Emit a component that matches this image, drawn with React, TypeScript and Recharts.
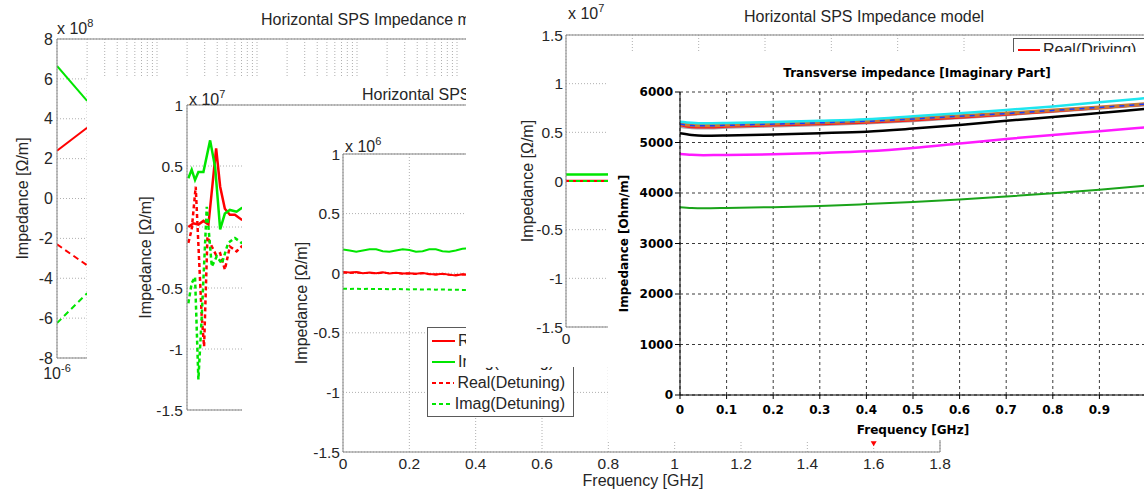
import React from 'react';
import {
  LineChart,
  Line,
  XAxis,
  YAxis,
  CartesianGrid,
  ReferenceLine,
  ReferenceDot,
  Legend,
} from 'recharts';

// ---------- back figure A: log frequency axis, values x 10^8 ----------
const aFreq = [1e-6, 2e-6];
const aRealDriving = [2.4, 3.55];
const aImagDriving = [6.65, 4.9];
const aRealDetuning = [-2.3, -3.35];
const aImagDetuning = [-6.25, -4.75];
const aYTicks = [-8, -6, -4, -2, 0, 2, 4, 6, 8];
const aDecades = [1e-6, 1e-5, 1e-4, 1e-3, 1e-2, 1e-1, 1];

// ---------- figure B: values x 10^7 ----------
const bFreqRealDrv = [0.004, 0.019, 0.034, 0.049, 0.064, 0.087, 0.099, 0.113, 0.128, 0.143, 0.163, 0.18];
const bRealDriving = [0.0, 0.03, 0.02, 0.05, 0.02, 0.645, 0.33, 0.15, 0.1, 0.1, 0.06, 0.05];
const bFreqImagDrv = [0.004, 0.014, 0.024, 0.034, 0.049, 0.069, 0.084, 0.099, 0.113, 0.128, 0.148, 0.163, 0.18];
const bImagDriving = [0.4, 0.47, 0.385, 0.45, 0.45, 0.71, 0.49, -0.02, 0.11, 0.14, 0.125, 0.155, 0.14];
const bFreqRealDet = [0.004, 0.014, 0.026, 0.044, 0.051, 0.061, 0.074, 0.087, 0.099, 0.113, 0.128, 0.148, 0.163, 0.18];
const bRealDetuning = [-0.13, -0.02, 0.33, -0.735, -0.98, -0.08, -0.16, -0.23, -0.215, -0.35, -0.16, -0.2, -0.16, -0.15];
const bFreqImagDet = [0.004, 0.014, 0.024, 0.034, 0.044, 0.059, 0.074, 0.089, 0.104, 0.123, 0.143, 0.163, 0.18];
const bImagDetuning = [-0.625, -0.46, -0.41, -1.25, -0.735, 0.166, -0.325, -0.24, -0.3, -0.13, -0.09, -0.13, -0.12];
const bYTicks = [-1.5, -1, -0.5, 0, 0.5, 1];

// ---------- figure C: values x 10^6 ----------
const cFreq = [0, 0.02, 0.04, 0.06, 0.08, 0.1, 0.12, 0.14, 0.16, 0.18, 0.2, 0.22, 0.24, 0.26, 0.28, 0.3, 0.32, 0.34, 0.36, 0.38];
const cRealDriving = [0.01, 0.005, 0.01, 0, 0.005, 0, 0.008, -0.003, 0.004, -0.002, 0, -0.005, 0.002, -0.006, -0.01, -0.004, -0.012, -0.02, -0.008, -0.015];
const cImagDriving = [0.2, 0.19, 0.18, 0.19, 0.2, 0.2, 0.185, 0.18, 0.19, 0.2, 0.195, 0.18, 0.185, 0.2, 0.2, 0.185, 0.18, 0.19, 0.205, 0.21];
const cRealDetuning = [0.004, 0.002, 0.006, 0.001, 0.003, -0.002, 0.004, 0, 0.002, -0.004, -0.002, -0.006, 0, -0.008, -0.01, -0.006, -0.014, -0.016, -0.01, -0.014];
const cImagDetuning = [-0.13, -0.132, -0.13, -0.133, -0.131, -0.134, -0.132, -0.135, -0.133, -0.134, -0.136, -0.134, -0.137, -0.135, -0.138, -0.137, -0.139, -0.138, -0.14, -0.14];
const cMarker = { f: 1.6, v: -1.43 };
const mTicksX = [0, 0.2, 0.4, 0.6, 0.8, 1, 1.2, 1.4, 1.6, 1.8];

// ---------- figure E: values x 10^7 ----------
const eFreq = [0, 0.1, 0.2, 0.3];
const eRealDriving = [0.002, 0.002, 0.002, 0.002];
const eImagDriving = [0.068, 0.068, 0.069, 0.069];
const eImagDetuning = [0.0, 0.0, 0.0, 0.0];
const eRealDetuning = [0.0, 0.0, 0.0, 0.0];
const eYTicks = [-1.5, -1, -0.5, 0, 0.5, 1, 1.5];

// ---------- front figure D: Transverse impedance [Imaginary Part], Ohm/m ----------
const dFreq = [0, 0.025, 0.05, 0.1, 0.2, 0.3, 0.4, 0.5, 0.6, 0.7, 0.8, 0.9, 1.0];
const dGrey = [5315, 5290, 5285, 5300, 5325, 5350, 5385, 5430, 5490, 5550, 5615, 5680, 5745];
const dRed = [5345, 5305, 5300, 5315, 5340, 5365, 5395, 5440, 5495, 5555, 5620, 5685, 5750];
const dBrown = [5370, 5340, 5335, 5345, 5370, 5395, 5425, 5470, 5525, 5578, 5640, 5700, 5765];
const dBlue = [5365, 5335, 5330, 5340, 5365, 5390, 5420, 5465, 5520, 5572, 5635, 5695, 5760];
const dCyan = [5410, 5390, 5380, 5385, 5405, 5430, 5462, 5520, 5580, 5643, 5715, 5795, 5878];
const dBlack = [5185, 5150, 5135, 5140, 5160, 5185, 5215, 5275, 5345, 5430, 5505, 5585, 5665];
const dMagenta = [4772, 4755, 4750, 4752, 4765, 4790, 4825, 4890, 4980, 5070, 5150, 5225, 5302];
const dGreen = [3720, 3705, 3700, 3705, 3720, 3745, 3780, 3820, 3870, 3930, 3995, 4065, 4145];
const dXTicks = [0, 0.1, 0.2, 0.3, 0.4, 0.5, 0.6, 0.7, 0.8, 0.9];
const dYTicks = [0, 1000, 2000, 3000, 4000, 5000, 6000];

const MATLAB = '"Liberation Sans", Arial, Helvetica, sans-serif';
const CST = '"DejaVu Sans", Verdana, sans-serif';
const INK = '#262626';
const AXIS = '#858585';
const GRID = '#b0b0b0';
const RED = '#ff0000';
const GREEN = '#00e600';

const legendNames = ['Real(Driving)', 'Imag(Driving)', 'Real(Detuning)', 'Imag(Detuning)'];
const legendStyle: Record<string, { color: string; dash?: string }> = {
  'Real(Driving)': { color: RED },
  'Imag(Driving)': { color: GREEN },
  'Real(Detuning)': { color: RED, dash: '4 3' },
  'Imag(Detuning)': { color: GREEN, dash: '4 3' },
};

const dSeries = [
  { key: 'grey', values: dGrey, color: '#a3a3a3', width: 3 },
  { key: 'red', values: dRed, color: '#ff1a1a', width: 2.5 },
  { key: 'brown', values: dBrown, color: '#c87a36', width: 3.5 },
  { key: 'blue', values: dBlue, color: '#1a3cff', width: 1.5, dash: '5 5' },
  { key: 'cyan', values: dCyan, color: '#1ee6ef', width: 2.5 },
  { key: 'black', values: dBlack, color: '#000000', width: 2.5 },
  { key: 'magenta', values: dMagenta, color: '#ff1aff', width: 2.5 },
  { key: 'green', values: dGreen, color: '#1aa31a', width: 2 },
];

const dRows = dFreq.map((f, i) => {
  const row: Record<string, number> = { f };
  dSeries.forEach((s) => {
    row[s.key] = s.values[i];
  });
  return row;
});

// log grid positions 1..9 x 10^k
const aLogTicks = aDecades.flatMap((d) => [1, 2, 3, 4, 5, 6, 7, 8, 9].map((k) => k * d)).concat([10]);

const pts = (fs: number[], vs: number[]) => fs.map((f, i) => ({ f, v: vs[i] }));

// chart sits at page origin; margins place the plot box at (l,t)-(r,b)
function frame(l: number, t: number, r: number, b: number, yw: number, xh: number) {
  return {
    width: r + 30,
    height: b + 80,
    margin: { left: l - yw, top: t, right: 30, bottom: 80 - xh },
  };
}

function Panel({ x, y, w, h, children }: { x: number; y: number; w: number; h: number; children: React.ReactNode }) {
  return (
    <div style={{ position: 'absolute', left: x, top: y, width: w, height: h, background: '#fff', overflow: 'hidden' }}>
      <div style={{ position: 'absolute', left: -x, top: -y, width: 1144, height: 489 }}>{children}</div>
    </div>
  );
}

function Txt({ x, y, children, center, style }: { x: number; y: number; children: React.ReactNode; center?: boolean; style?: React.CSSProperties }) {
  return (
    <div
      style={{
        position: 'absolute',
        left: x,
        top: y,
        whiteSpace: 'nowrap',
        lineHeight: '16px',
        transform: center ? 'translateX(-50%)' : undefined,
        fontFamily: MATLAB,
        fontSize: 16,
        color: INK,
        ...style,
      }}
    >
      {children}
    </div>
  );
}

function Exp({ x, y, e }: { x: number; y: number; e: string }) {
  return (
    <Txt x={x} y={y}>
      x 10<span style={{ fontSize: 11, position: 'relative', top: -7 }}>{e}</span>
    </Txt>
  );
}

const vLabel = (text: string, x: number, cyFallback: number, style: React.CSSProperties) => ({
  content: (p: any) => {
    const vb = p && p.viewBox;
    const cy = vb && typeof vb.y === 'number' && typeof vb.height === 'number' ? vb.y + vb.height / 2 : cyFallback;
    return (
      <text x={x} y={cy} transform={`rotate(-90 ${x} ${cy})`} textAnchor="middle" dominantBaseline="central" style={style}>
        {text}
      </text>
    );
  },
});

const hLabel = (text: string, cx: number, cy: number, style: React.CSSProperties) => ({
  content: () => (
    <text x={cx} y={cy} textAnchor="middle" dominantBaseline="central" style={style}>
      {text}
    </text>
  ),
});

function DecadeTick(props: any) {
  const { x, y, payload } = props;
  const e = Math.log10(payload.value);
  if (Math.abs(e - Math.round(e)) > 1e-6) return <g />;
  return (
    <text x={x} y={y} textAnchor="middle" fill={INK} style={{ fontFamily: MATLAB, fontSize: 16 }}>
      <tspan dy="0.8em">10</tspan>
      <tspan dy="-0.6em" fontSize={11}>
        {Math.round(e)}
      </tspan>
    </text>
  );
}

function LegendBox({ padTop, lineW }: { padTop: number; lineW: number }) {
  return (
    <div
      style={{
        border: '1px solid #5a5a5a',
        background: '#fff',
        padding: `${padTop}px 8px 2px 4px`,
        fontFamily: MATLAB,
        fontSize: 16,
        color: INK,
      }}
    >
      {legendNames.map((n) => (
        <div key={n} style={{ display: 'flex', alignItems: 'center', height: 21, whiteSpace: 'nowrap' }}>
          <svg width={lineW} height={4} style={{ display: 'block' }}>
            <line x1={0} y1={2} x2={lineW} y2={2} stroke={legendStyle[n].color} strokeWidth={2} strokeDasharray={legendStyle[n].dash} />
          </svg>
          <span style={{ marginLeft: 3, lineHeight: '16px' }}>{n}</span>
        </div>
      ))}
    </div>
  );
}

const mTick = { fill: INK, fontSize: 15.5, fontFamily: MATLAB };
const mLabel = { fill: INK, fontSize: 16, fontFamily: MATLAB };
const dTick = { fill: '#000', fontSize: 12, fontFamily: CST, fontWeight: 700 };
const dLabel = { fill: '#000', fontSize: 12, fontFamily: CST, fontWeight: 700 };

export default function App() {
  const A = frame(57, 39, 757, 358, 40, 30);
  const B = frame(187, 105, 790, 410, 40, 30);
  const C = frame(343, 154, 940, 452, 40, 30);
  const E = frame(566, 35, 1163, 327, 40, 30);
  const D = frame(680, 92, 1146, 395, 50, 40);

  return (
    <div style={{ position: 'absolute', left: 0, top: 0, width: 1144, height: 489, overflow: 'hidden', background: '#fff' }}>
      {/* A */}
      <Panel x={0} y={0} w={1144} h={489}>
        <LineChart width={A.width} height={A.height} margin={A.margin}>
          <CartesianGrid stroke={GRID} strokeDasharray="1 2" vertical={false} />
          <XAxis
            type="number"
            dataKey="f"
            scale="log"
            domain={[1e-6, 10]}
            ticks={aLogTicks}
            interval={0}
            allowDataOverflow
            tick={<DecadeTick />}
            tickLine={false}
            tickSize={4}
            tickMargin={4}
            axisLine={{ stroke: AXIS }}
            height={30}
          />
          <YAxis
            type="number"
            domain={[-8, 8]}
            ticks={aYTicks}
            interval={0}
            allowDataOverflow
            tick={{ ...mTick, fontSize: 16 }}
            tickLine={false}
            tickSize={4}
            tickMargin={0}
            axisLine={{ stroke: AXIS }}
            width={40}
            label={vLabel('Impedance [Ω/m]', 22, 198, mLabel)}
          />
          {aLogTicks.map((v) => (
            <ReferenceLine key={v} x={v} stroke={GRID} strokeDasharray="1 2" />
          ))}
          <ReferenceLine y={8} stroke={AXIS} />
          <Line data={pts(aFreq, aRealDriving)} dataKey="v" stroke={RED} strokeWidth={2} dot={false} isAnimationActive={false} />
          <Line data={pts(aFreq, aImagDriving)} dataKey="v" stroke={GREEN} strokeWidth={2} dot={false} isAnimationActive={false} />
          <Line data={pts(aFreq, aRealDetuning)} dataKey="v" stroke={RED} strokeWidth={2} strokeDasharray="6 4" dot={false} isAnimationActive={false} />
          <Line data={pts(aFreq, aImagDetuning)} dataKey="v" stroke={GREEN} strokeWidth={2} strokeDasharray="6 4" dot={false} isAnimationActive={false} />
        </LineChart>
        <Exp x={57} y={21} e="8" />
        <Txt x={261} y={12}>Horizontal SPS Impedance model</Txt>
      </Panel>

      {/* B */}
      <Panel x={87} y={76} w={1057} h={413}>
        <LineChart width={B.width} height={B.height} margin={B.margin}>
          <CartesianGrid stroke={GRID} strokeDasharray="1 2" />
          <XAxis type="number" dataKey="f" domain={[0, 1.8]} ticks={mTicksX} interval={0} allowDataOverflow tick={false} tickLine={false} axisLine={{ stroke: AXIS }} height={30} />
          <YAxis
            type="number"
            domain={[-1.5, 1]}
            ticks={bYTicks}
            interval={0}
            allowDataOverflow
            tick={mTick}
            tickLine={false}
            tickSize={4}
            tickMargin={0}
            axisLine={{ stroke: AXIS }}
            width={40}
            label={vLabel('Impedance [Ω/m]', 145, 257, mLabel)}
          />
          <ReferenceLine y={1} stroke={AXIS} />
          <Line data={pts(bFreqRealDrv, bRealDriving)} dataKey="v" stroke={RED} strokeWidth={2.5} dot={false} isAnimationActive={false} />
          <Line data={pts(bFreqImagDrv, bImagDriving)} dataKey="v" stroke={GREEN} strokeWidth={2.5} dot={false} isAnimationActive={false} />
          <Line data={pts(bFreqRealDet, bRealDetuning)} dataKey="v" stroke={RED} strokeWidth={2.5} strokeDasharray="4 3" dot={false} isAnimationActive={false} />
          <Line data={pts(bFreqImagDet, bImagDetuning)} dataKey="v" stroke={GREEN} strokeWidth={2.5} strokeDasharray="4 3" dot={false} isAnimationActive={false} />
        </LineChart>
        <Exp x={189} y={92} e="7" />
        <Txt x={362} y={87}>Horizontal SPS Impedance model</Txt>
      </Panel>

      {/* C */}
      <Panel x={242} y={128} w={902} h={361}>
        <LineChart width={C.width} height={C.height} margin={C.margin}>
          <CartesianGrid stroke={GRID} strokeDasharray="1 2" />
          <XAxis
            type="number"
            dataKey="f"
            domain={[0, 1.8]}
            ticks={mTicksX}
            interval={0}
            allowDataOverflow
            tick={mTick}
            tickLine={false}
            tickSize={3}
            tickMargin={3}
            axisLine={{ stroke: AXIS }}
            height={30}
            label={hLabel('Frequency [GHz]', 643, 480, mLabel)}
          />
          <YAxis
            type="number"
            domain={[-1.5, 1]}
            ticks={bYTicks}
            interval={0}
            allowDataOverflow
            tick={mTick}
            tickLine={false}
            tickSize={3}
            tickMargin={0}
            axisLine={{ stroke: AXIS }}
            width={40}
            label={vLabel('Impedance [Ω/m]', 301, 303, mLabel)}
          />
          <ReferenceLine y={1} stroke={AXIS} />
          <ReferenceLine x={1.8} stroke={AXIS} />
          <Line name="Real(Driving)" data={pts(cFreq, cRealDriving)} dataKey="v" stroke={RED} strokeWidth={2} dot={false} isAnimationActive={false} />
          <Line name="Imag(Driving)" data={pts(cFreq, cImagDriving)} dataKey="v" stroke={GREEN} strokeWidth={2} dot={false} isAnimationActive={false} />
          <Line name="Real(Detuning)" data={pts(cFreq, cRealDetuning)} dataKey="v" stroke={RED} strokeWidth={2} strokeDasharray="4 3" dot={false} isAnimationActive={false} />
          <Line name="Imag(Detuning)" data={pts(cFreq, cImagDetuning)} dataKey="v" stroke={GREEN} strokeWidth={2} strokeDasharray="4 3" dot={false} isAnimationActive={false} />
          <ReferenceDot
            x={cMarker.f}
            y={cMarker.v}
            r={3}
            shape={(p: any) => <path d={`M${p.cx - 3},${p.cy - 2.5}L${p.cx + 3},${p.cy - 2.5}L${p.cx},${p.cy + 2.5}Z`} fill={RED} />}
          />
          <Legend
            layout="vertical"
            align="center"
            verticalAlign="middle"
            wrapperStyle={{ left: 427, top: 327, width: 147 }}
            content={() => <LegendBox padTop={2} lineW={23} />}
          />
        </LineChart>
        <Exp x={345} y={139} e="6" />
      </Panel>

      {/* E */}
      <Panel x={466} y={0} w={678} h={367}>
        <LineChart width={E.width} height={E.height} margin={E.margin}>
          <CartesianGrid stroke={GRID} strokeDasharray="1 2" />
          <XAxis
            type="number"
            dataKey="f"
            domain={[0, 1.8]}
            ticks={mTicksX}
            interval={0}
            allowDataOverflow
            tick={mTick}
            tickLine={false}
            tickSize={3}
            tickMargin={3}
            axisLine={{ stroke: AXIS }}
            height={30}
          />
          <YAxis
            type="number"
            domain={[-1.5, 1.5]}
            ticks={eYTicks}
            interval={0}
            allowDataOverflow
            tick={mTick}
            tickLine={false}
            tickSize={3}
            tickMargin={0}
            axisLine={{ stroke: AXIS }}
            width={40}
            label={vLabel('Impedance [Ω/m]', 527, 181, mLabel)}
          />
          <ReferenceLine y={1.5} stroke={AXIS} />
          <Line name="Real(Driving)" data={pts(eFreq, eRealDriving)} dataKey="v" stroke={RED} strokeWidth={2} dot={false} isAnimationActive={false} />
          <Line name="Imag(Driving)" data={pts(eFreq, eImagDriving)} dataKey="v" stroke={GREEN} strokeWidth={2.5} dot={false} isAnimationActive={false} />
          <Line name="Imag(Detuning)" data={pts(eFreq, eImagDetuning)} dataKey="v" stroke={GREEN} strokeWidth={2} dot={false} isAnimationActive={false} />
          <Line name="Real(Detuning)" data={pts(eFreq, eRealDetuning)} dataKey="v" stroke={RED} strokeWidth={2} strokeDasharray="3 4" dot={false} isAnimationActive={false} />
          <Legend
            layout="vertical"
            align="center"
            verticalAlign="middle"
            wrapperStyle={{ left: 1013, top: 38, width: 150 }}
            content={() => <LegendBox padTop={0} lineW={22} />}
          />
        </LineChart>
        <Exp x={568} y={6} e="7" />
        <Txt x={744} y={9}>Horizontal SPS Impedance model</Txt>
      </Panel>

      {/* D (front) */}
      <Panel x={608} y={52} w={536} h={388}>
        <LineChart width={D.width} height={D.height} margin={D.margin} data={dRows}>
          <CartesianGrid stroke="#3a3a3a" strokeDasharray="3 3" />
          <XAxis
            type="number"
            dataKey="f"
            domain={[0, 1]}
            ticks={dXTicks}
            interval={0}
            allowDataOverflow
            tick={dTick}
            tickSize={4}
            tickMargin={6}
            tickLine={{ stroke: '#000' }}
            axisLine={{ stroke: '#000' }}
            height={40}
            label={hLabel('Frequency [GHz]', 913, 430, dLabel)}
          />
          <YAxis
            type="number"
            domain={[0, 6000]}
            ticks={dYTicks}
            interval={0}
            allowDataOverflow
            tick={dTick}
            tickSize={5}
            tickMargin={2}
            tickLine={{ stroke: '#000' }}
            axisLine={{ stroke: '#000' }}
            width={50}
            label={vLabel('Impedance [Ohm/m]', 624, 243, dLabel)}
          />
          {dSeries.map((s) => (
            <Line
              key={s.key}
              type="monotone"
              dataKey={s.key}
              stroke={s.color}
              strokeWidth={s.width}
              strokeDasharray={s.dash}
              dot={false}
              isAnimationActive={false}
            />
          ))}
        </LineChart>
        <Txt x={917} y={66} center style={{ fontFamily: CST, fontSize: 12, fontWeight: 700, color: '#000', lineHeight: '14px' }}>
          Transverse impedance [Imaginary Part]
        </Txt>
      </Panel>
    </div>
  );
}
